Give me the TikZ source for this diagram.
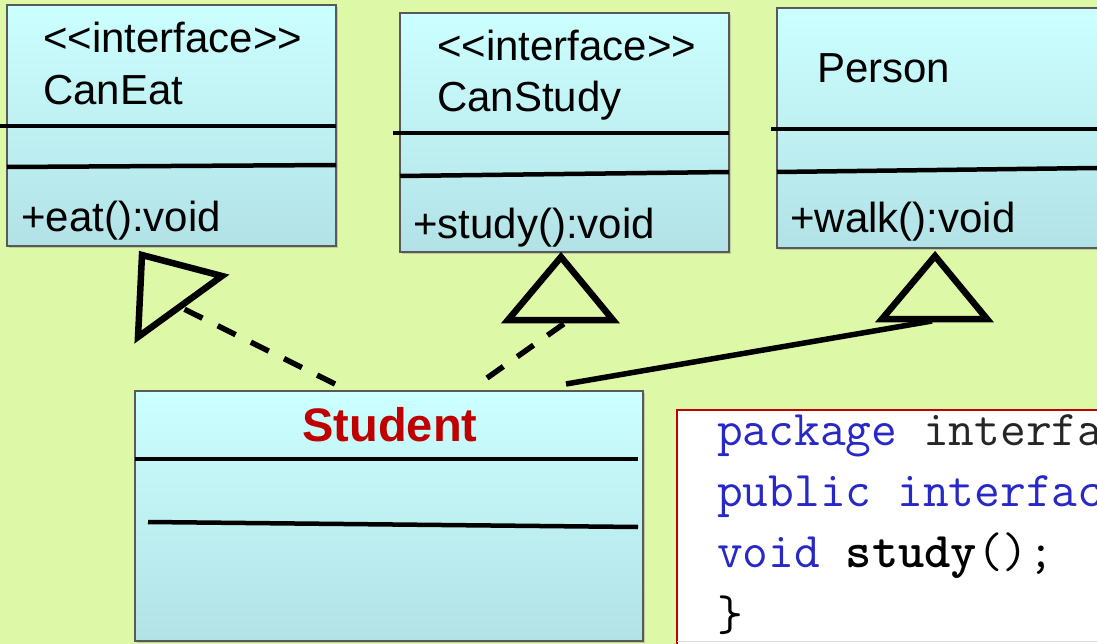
\documentclass[tikz,border=0pt]{standalone}
\usepackage{fontspec}
\setmainfont{Liberation Sans}
\usetikzlibrary{shadows}
\definecolor{bggreen}{RGB}{221,248,166}
\definecolor{boxtop}{RGB}{204,255,255}
\definecolor{boxbot}{RGB}{178,226,230}
\definecolor{darkred}{RGB}{192,0,0}
\definecolor{kwblue}{RGB}{40,40,200}
\newcommand{\stereo}{<\kern0pt<interface>\kern0pt>}
\tikzset{
  umlbox/.style={draw=black!65, line width=1.2pt, inner sep=0pt, top color=boxtop, bottom color=boxbot,
    drop shadow={opacity=.35, shadow xshift=2pt, shadow yshift=-2pt}},
  sepline/.style={line width=4.5pt},
  realize/.style={line width=5.5pt, dash pattern=on 20pt off 17pt},
  generalize/.style={line width=5.5pt},
  hollow/.style={line width=6.5pt},
  txt/.style={anchor=base west, inner sep=0pt, font=\fontsize{42}{50}\selectfont},
  code/.style={anchor=base west, inner sep=0pt, font=\ttfamily\fontsize{50}{60}\selectfont}
}
\begin{document}
\begin{tikzpicture}[x=1pt, y=-1pt]
\useasboundingbox (0,0) rectangle (1097,644);
\clip (0,0) rectangle (1097,644);
\fill[bggreen] (0,0) rectangle (1097,644);

% class boxes
\node[umlbox, minimum width=329pt, minimum height=241pt] (caneat) at (171.5,125.5) {};
\node[umlbox, minimum width=329pt, minimum height=239pt] (canstudy) at (564.5,132.5) {};
\node[umlbox, minimum width=333pt, minimum height=240pt] (person) at (943.5,128) {};
\node[umlbox, minimum width=508pt, minimum height=250pt] (student) at (389,516) {};
\node[draw=darkred, line width=1.5pt, fill=white, minimum width=433pt, minimum height=250pt] (codebox) at (893.5,535) {};
\draw[black!15, line width=1pt] (677,641) -- (1097,641);

\draw[sepline] (0,126) -- (336,126);
\draw[sepline] (7,167) -- (336,165);
\draw[sepline] (393,133) -- (729,133);
\draw[sepline] (400,176) -- (729,172);
\draw[sepline] (771,129) -- (1097,129);
\draw[sepline] (777,172) -- (1097,168);
\draw[sepline] (135,459) -- (638,459);
\draw[sepline] (148,522) -- (638,527);

\node[txt] (eatname) at (43,53) {\stereo};
\node[txt] (eattitle) at (43,105) {CanEat};
\node[txt] (eatop) at (21,232) {+eat():void};
\node[txt] (studyname) at (437,61) {\stereo};
\node[txt] (studytitle) at (437,112) {CanStudy};
\node[txt] (studyop) at (413,239) {+study():void};
\node[txt] (persontitle) at (817,83) {Person};
\node[txt] (personop) at (790,233) {+walk():void};
\node[anchor=base, inner sep=0pt, text=darkred, font=\bfseries\fontsize{47}{56}\selectfont] (studenttitle) at (390,441) {Student};

\node[code] (line1) at (717,445) {\textcolor{kwblue}{package} \textcolor{black!85}{interfa}};
\node[code] (line2) at (717,506) {\textcolor{kwblue}{public interfac}};
\node[code] (line3) at (717,567) {\textcolor{kwblue}{void} \textbf{study}();};
\node[code] (line4) at (717,630) {\}};

% triangles
\draw[hollow] (142,255) -- (138,337) -- (222,276) -- cycle;
\draw[hollow] (561,257) -- (508,320) -- (613,320) -- cycle;
\draw[hollow] (935,256) -- (882,319) -- (987,319) -- cycle;

\coordinate (s1) at (335,384);
\coordinate (t1) at (182,308);
\coordinate (s2) at (487,378);
\coordinate (t2) at (565,323);
\coordinate (s3) at (566,384);
\coordinate (t3) at (932,321);
\draw[realize] (s1) -- (t1);
\draw[realize] (s2) -- (t2);
\draw[generalize] (s3) -- (t3);
\end{tikzpicture}
\end{document}
